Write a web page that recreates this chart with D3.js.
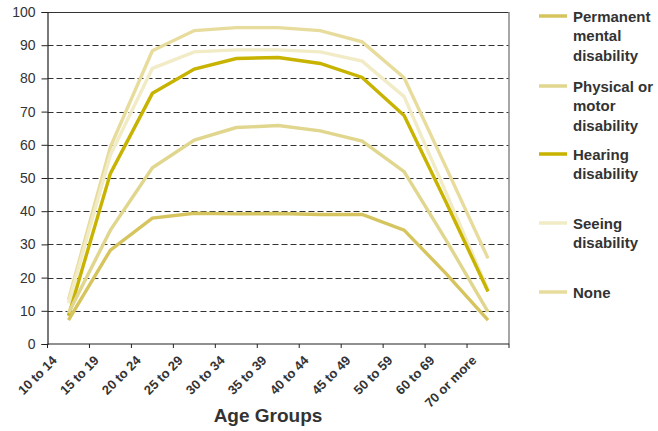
<!DOCTYPE html>
<html>
<head>
<meta charset="utf-8">
<script src="https://cdn.jsdelivr.net/npm/d3@7"></script>
<style>
  html, body { margin: 0; padding: 0; background: #fff; }
  svg { display: block; font-family: Arial, "Liberation Sans", sans-serif; }
</style>
</head>
<body>
<svg id="chart" width="658" height="431"></svg>
<script>
const categories = ["10 to 14", "15 to 19", "20 to 24", "25 to 29", "30 to 34", "35 to 39",
  "40 to 44", "45 to 49", "50 to 59", "60 to 69", "70 or more"];
const permanentMental = [7.2, 28.3, 37.9, 39.4, 39.2, 39.3, 39.0, 39.0, 34.3, 21.2, 7.2];
const physicalMotor   = [9.3, 34.3, 53.1, 61.4, 65.2, 65.8, 64.2, 61.1, 51.9, 31.3, 9.7];
const hearing         = [8.5, 51.4, 75.5, 82.8, 86.0, 86.3, 84.5, 80.3, 68.8, 42.7, 15.8];
const seeing          = [12.3, 57.0, 83.0, 88.0, 88.6, 88.6, 88.0, 85.2, 74.5, 45.6, 16.3];
const none            = [13.3, 59.4, 88.3, 94.4, 95.3, 95.3, 94.4, 91.0, 80.2, 53.2, 25.8];
const yTicks = [0, 10, 20, 30, 40, 50, 60, 70, 80, 90, 100];

const series = [
  { name: ["Permanent", "mental", "disability"], values: permanentMental, color: "#d6c55e" },
  { name: ["Physical or", "motor", "disability"], values: physicalMotor, color: "#e1d68e" },
  { name: ["Hearing", "disability"], values: hearing, color: "#c7b300" },
  { name: ["Seeing", "disability"], values: seeing, color: "#f1ebc6" },
  { name: ["None"], values: none, color: "#e7dc9c" }
];

const svg = d3.select("#chart");
const mLeft = 47.5, mRight = 509, mTop = 12, mBottom = 344;

const x = d3.scaleBand().domain(categories).range([mLeft, mRight]).padding(0);
const y = d3.scaleLinear().domain([0, 100]).range([mBottom, mTop]);

// gridlines
svg.append("g").selectAll("line").data(yTicks.filter(d => d > 0 && d < 100)).join("line")
  .attr("x1", mLeft).attr("x2", mRight)
  .attr("y1", d => Math.round(y(d)) + 0.5).attr("y2", d => Math.round(y(d)) + 0.5)
  .attr("stroke", "#333").attr("stroke-width", 1).attr("stroke-dasharray", "6,3");

// top border & right border
svg.append("line").attr("x1", mLeft).attr("x2", mRight)
  .attr("y1", Math.round(y(100)) + 0.5).attr("y2", Math.round(y(100)) + 0.5)
  .attr("stroke", "#333").attr("stroke-width", 1);
svg.append("line").attr("x1", mRight).attr("x2", mRight)
  .attr("y1", y(100)).attr("y2", y(0))
  .attr("stroke", "#888").attr("stroke-width", 1.5);

// y axis
const yAxis = svg.append("g").attr("transform", `translate(${mLeft},0)`)
  .call(d3.axisLeft(y).tickValues(yTicks).tickSize(6).tickPadding(6).tickFormat(d3.format("d")));
yAxis.select(".domain").attr("stroke", "#222").attr("stroke-width", 1.2);
yAxis.selectAll(".tick line").attr("stroke", "#222");
yAxis.selectAll("text").attr("font-size", 14).attr("fill", "#333")
  .attr("font-family", "Arial, 'Liberation Sans', sans-serif");

// x axis: ticks at band edges
const edges = categories.map(c => x(c)).concat([mRight]);
const xg = svg.append("g");
xg.append("line").attr("x1", mLeft).attr("x2", mRight)
  .attr("y1", y(0)).attr("y2", y(0)).attr("stroke", "#222").attr("stroke-width", 1.2);
xg.selectAll("line.tk").data(edges).join("line").attr("class", "tk")
  .attr("x1", d => d).attr("x2", d => d)
  .attr("y1", y(0)).attr("y2", y(0) + 4).attr("stroke", "#222");
xg.selectAll("text").data(categories).join("text")
  .attr("transform", d => `translate(${x(d) + x.bandwidth() / 2 - 14},${y(0) + 14}) rotate(-45)`)
  .attr("text-anchor", "end").attr("dy", "0.35em")
  .attr("font-size", 13).attr("font-weight", "bold").attr("fill", "#333")
  .text(d => d);

svg.append("text").attr("x", 268).attr("y", 422).attr("text-anchor", "middle")
  .attr("font-size", 19).attr("font-weight", "bold").attr("fill", "#333").text("Age Groups");

// lines
const line = d3.line().x((d, i) => x(categories[i]) + x.bandwidth() / 2).y(d => y(d));
svg.append("g").selectAll("path").data(series.slice().reverse()).join("path")
  .attr("d", d => line(d.values))
  .attr("fill", "none").attr("stroke", d => d.color)
  .attr("stroke-width", 3.4).attr("stroke-linejoin", "miter");

// legend
const legendY = [16, 86, 154, 223, 292];
const lg = svg.append("g");
series.forEach((s, i) => {
  const g = lg.append("g").attr("transform", `translate(0,${legendY[i]})`);
  g.append("line").attr("x1", 539).attr("x2", 567).attr("y1", 0).attr("y2", 0)
    .attr("stroke", s.color).attr("stroke-width", 3.5);
  const t = g.append("text").attr("x", 573).attr("y", 5.5)
    .attr("font-size", 15).attr("font-weight", "bold").attr("fill", "#333");
  s.name.forEach((n, j) => {
    t.append("tspan").attr("x", 573).attr("dy", j === 0 ? 0 : 19.5).text(n);
  });
});
</script>
</body>
</html>
